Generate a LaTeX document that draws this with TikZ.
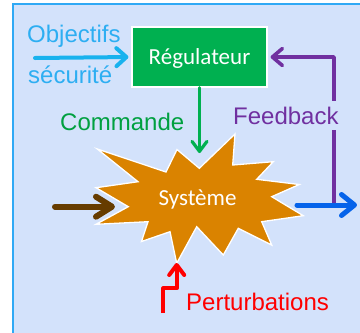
\documentclass[tikz,border=0pt]{standalone}
\usepackage{fontspec}
\setmainfont{Liberation Sans}
\newfontfamily\calibri{Carlito}
\usetikzlibrary{arrows.meta}
\definecolor{bgblue}{HTML}{D3E2FB}
\definecolor{framecol}{HTML}{2FA9F5}
\definecolor{objtext}{HTML}{2DAEF2}
\definecolor{objarrow}{HTML}{18B2EE}
\definecolor{regfill}{HTML}{00B050}
\definecolor{cmdtext}{HTML}{00A040}
\definecolor{fbcol}{HTML}{7030A0}
\definecolor{starfill}{HTML}{DA8300}
\definecolor{browncol}{HTML}{663C00}
\definecolor{outblue}{HTML}{0563EA}
\definecolor{redcol}{HTML}{FF0000}
\begin{document}
\begin{tikzpicture}[x=1pt,y=-1pt,
  lbl/.style={anchor=base west, inner sep=0pt, font=\fontsize{24}{28}\selectfont},
  calfont/.style={font=\calibri\fontsize{23}{27}\selectfont, text=white},
  conn/.style={line cap=round, line join=round},
  barbtip/.style 2 args={-{Straight Barb[length=#1, width=#2, round]}}]
\useasboundingbox (0,0) rectangle (360,333);
\clip (0,0) rectangle (360,333);
% background panel
\draw[framecol, line width=1.6pt, fill=bgblue] (12.8,3.8) rectangle (375,345);
% regulator box
\node[draw=white, line width=1.2pt, fill=regfill, calfont, minimum width=135pt,
  minimum height=60pt, text height=15pt, text depth=0pt, inner sep=0pt] (reg) at (199.5,57) {Régulateur};
% system star
\draw[white, line width=1.3pt, fill=starfill, line join=miter]
  (97.3,149) -- (166,172) -- (177,149.5) -- (199.3,168.3) -- (235,134)
  -- (232.7,165) -- (273.3,161.7) -- (256.7,179.3) -- (299.3,184.5)
  -- (271.7,196.7) -- (303.3,215.7) -- (261.7,221.7) -- (271.7,245)
  -- (238.3,228.3) -- (223.3,255) -- (196.7,226.7) -- (176.7,263.3)
  -- (170,231.7) -- (141.5,241.5) -- (148,221.7) -- (96,224.3)
  -- (128.3,206.7) -- (96,187.7) -- (138,181.7) -- cycle;
\node[calfont, anchor=base, inner sep=0pt] (sys) at (197.5,205) {Système};
% coordinates
\coordinate (objstart) at (35,58);
\coordinate (cmdend) at (199.5,153);
\coordinate (brstart) at (55,206.7);
\coordinate (brend) at (115,206.7);
\coordinate (outstart) at (297,205);
\coordinate (outend) at (357,205);
\coordinate (fbstart) at (334,205);
\coordinate (pstart) at (163.3,313);
\coordinate (pend) at (176.7,263);
% texts
\node[lbl, text=objtext] (obj) at (27,42) {Objectifs};
\node[lbl, text=objtext] (sec) at (28,83) {sécurité};
\node[lbl, text=cmdtext] (cmd) at (60,130) {Commande};
% connectors
\draw[conn, objarrow, line width=4pt, barbtip={10pt}{18pt}, shorten >=3pt] (objstart) -- (reg.west);
\draw[conn, regfill, line width=3.2pt, barbtip={10pt}{15pt}] (reg.south) -- (cmdend);
\draw[conn, fbcol, line width=3.6pt, barbtip={10pt}{17pt}, shorten >=3pt, line cap=butt] (fbstart) |- (reg.east);
\node[lbl, text=fbcol, fill=bgblue, inner ysep=6pt] (fb) at (233,124) {Feedback};
\draw[conn, browncol, line width=6pt, barbtip={16pt}{20pt}] (brstart) -- (brend);
\draw[conn, outblue, line width=5pt, barbtip={13pt}{21pt}] (outstart) -- (outend);
\draw[conn, redcol, line width=4pt, barbtip={10pt}{15pt}, line cap=butt] (pstart) -- (163.3,288.3) -- (176.7,288.3) -- (pend);
\node[lbl, text=redcol] (pert) at (186,310) {Perturbations};
\end{tikzpicture}
\end{document}
